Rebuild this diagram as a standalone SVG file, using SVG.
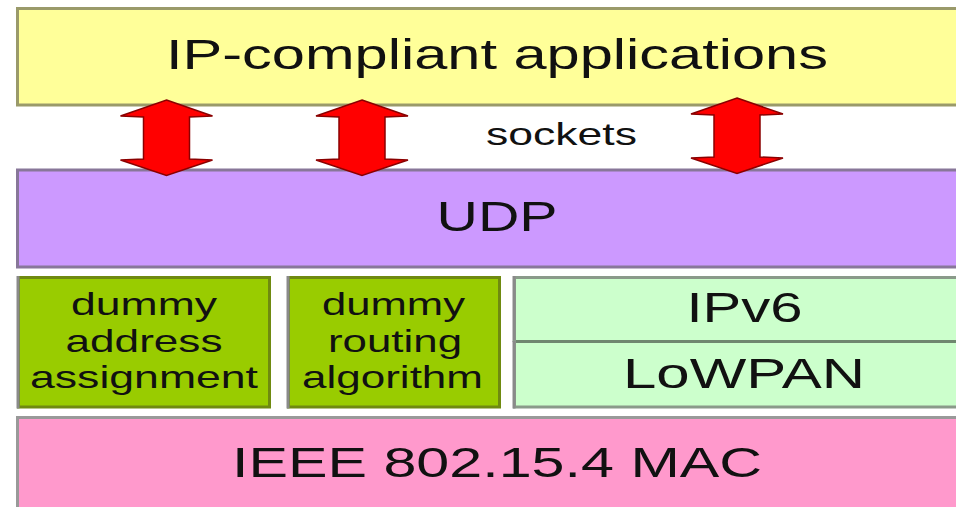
<svg xmlns="http://www.w3.org/2000/svg" width="956" height="507" viewBox="0 0 956 507">
  <defs>
    <style>
      .lbl { font-family: "Liberation Sans", Arial, sans-serif; fill: #111; text-anchor: middle; }
      .big { font-size: 42px; }
      .small { font-size: 32px; }
      .arrow { fill: #ff0000; stroke: #8a0000; stroke-width: 1.5; stroke-linejoin: miter; }
    </style>
    <!-- double-headed block arrow, centred on x=0 -->
    <path id="dblArrow" d="M0,100 L46,116 L23,117 L23,159 L46,160 L0,175.5 L-46,160 L-23,159 L-23,117 L-46,116 Z"/>
  </defs>

  <rect width="956" height="507" fill="#ffffff"/>

  <!-- application layer -->
  <g id="apps">
    <rect x="17.5" y="8.5" width="950" height="96.5" fill="#ffff99" stroke="#9a9a6a" stroke-width="3"/>
    <text class="lbl big" x="497" y="69" textLength="662" lengthAdjust="spacingAndGlyphs">IP-compliant applications</text>
  </g>

  <!-- socket interface label -->
  <g id="sockets">
    <text class="lbl small" x="561.5" y="145" textLength="151" lengthAdjust="spacingAndGlyphs" fill="#222">sockets</text>
  </g>

  <!-- transport layer -->
  <g id="udp">
    <rect x="17.5" y="170" width="950" height="97" fill="#cc99ff" stroke="#887799" stroke-width="3"/>
    <text class="lbl big" x="497" y="231" textLength="121" lengthAdjust="spacingAndGlyphs">UDP</text>
  </g>

  <!-- connectors: socket API arrows -->
  <g id="connectors">
    <use href="#dblArrow" class="arrow" transform="translate(166.5 0)"/>
    <use href="#dblArrow" class="arrow" transform="translate(362 0)"/>
    <use href="#dblArrow" class="arrow" transform="translate(737 -2)"/>
  </g>

  <!-- address assignment block -->
  <g id="addr">
    <rect x="18.5" y="277.5" width="251" height="129.5" fill="#99cc00" stroke="#6f8a10" stroke-width="3"/>
    <line x1="18" y1="276" x2="18" y2="408.5" stroke="#8a8a8a" stroke-width="3"/>
    <text class="lbl small" x="144" y="315" textLength="146" lengthAdjust="spacingAndGlyphs">dummy</text>
    <text class="lbl small" x="144" y="352" textLength="157" lengthAdjust="spacingAndGlyphs">address</text>
    <text class="lbl small" x="144" y="388" textLength="228" lengthAdjust="spacingAndGlyphs">assignment</text>
  </g>

  <!-- routing block -->
  <g id="routing">
    <rect x="288.5" y="277.5" width="211" height="129.5" fill="#99cc00" stroke="#6f8a10" stroke-width="3"/>
    <line x1="288" y1="276" x2="288" y2="408.5" stroke="#8a8a8a" stroke-width="3"/>
    <text class="lbl small" x="393.5" y="315" textLength="143" lengthAdjust="spacingAndGlyphs">dummy</text>
    <text class="lbl small" x="395" y="352" textLength="134" lengthAdjust="spacingAndGlyphs">routing</text>
    <text class="lbl small" x="392.5" y="388" textLength="181" lengthAdjust="spacingAndGlyphs">algorithm</text>
  </g>

  <!-- network / adaptation layers -->
  <g id="ipv6">
    <rect x="514.5" y="277.5" width="450" height="64" fill="#ccffcc" stroke="#8a9a8a" stroke-width="3"/>
    <line x1="514" y1="276" x2="514" y2="342" stroke="#8a8a8a" stroke-width="3"/>
    <text class="lbl big" x="744.5" y="322" textLength="116" lengthAdjust="spacingAndGlyphs">IPv6</text>
  </g>
  <g id="lowpan">
    <rect x="514.5" y="341.5" width="450" height="65.5" fill="#ccffcc" stroke="#8a9a8a" stroke-width="3"/>
    <line x1="514" y1="341" x2="514" y2="408.5" stroke="#8a8a8a" stroke-width="3"/>
    <line x1="516" y1="341.5" x2="956" y2="341.5" stroke="#6f876f" stroke-width="3"/>
    <text class="lbl big" x="744" y="388" textLength="242" lengthAdjust="spacingAndGlyphs">LoWPAN</text>
  </g>

  <!-- link layer -->
  <g id="mac">
    <rect x="17.5" y="417.5" width="950" height="100" fill="#ff99cc" stroke="#999999" stroke-width="3"/>
    <text class="lbl big" x="497" y="477" textLength="530" lengthAdjust="spacingAndGlyphs">IEEE 802.15.4 MAC</text>
  </g>
</svg>
